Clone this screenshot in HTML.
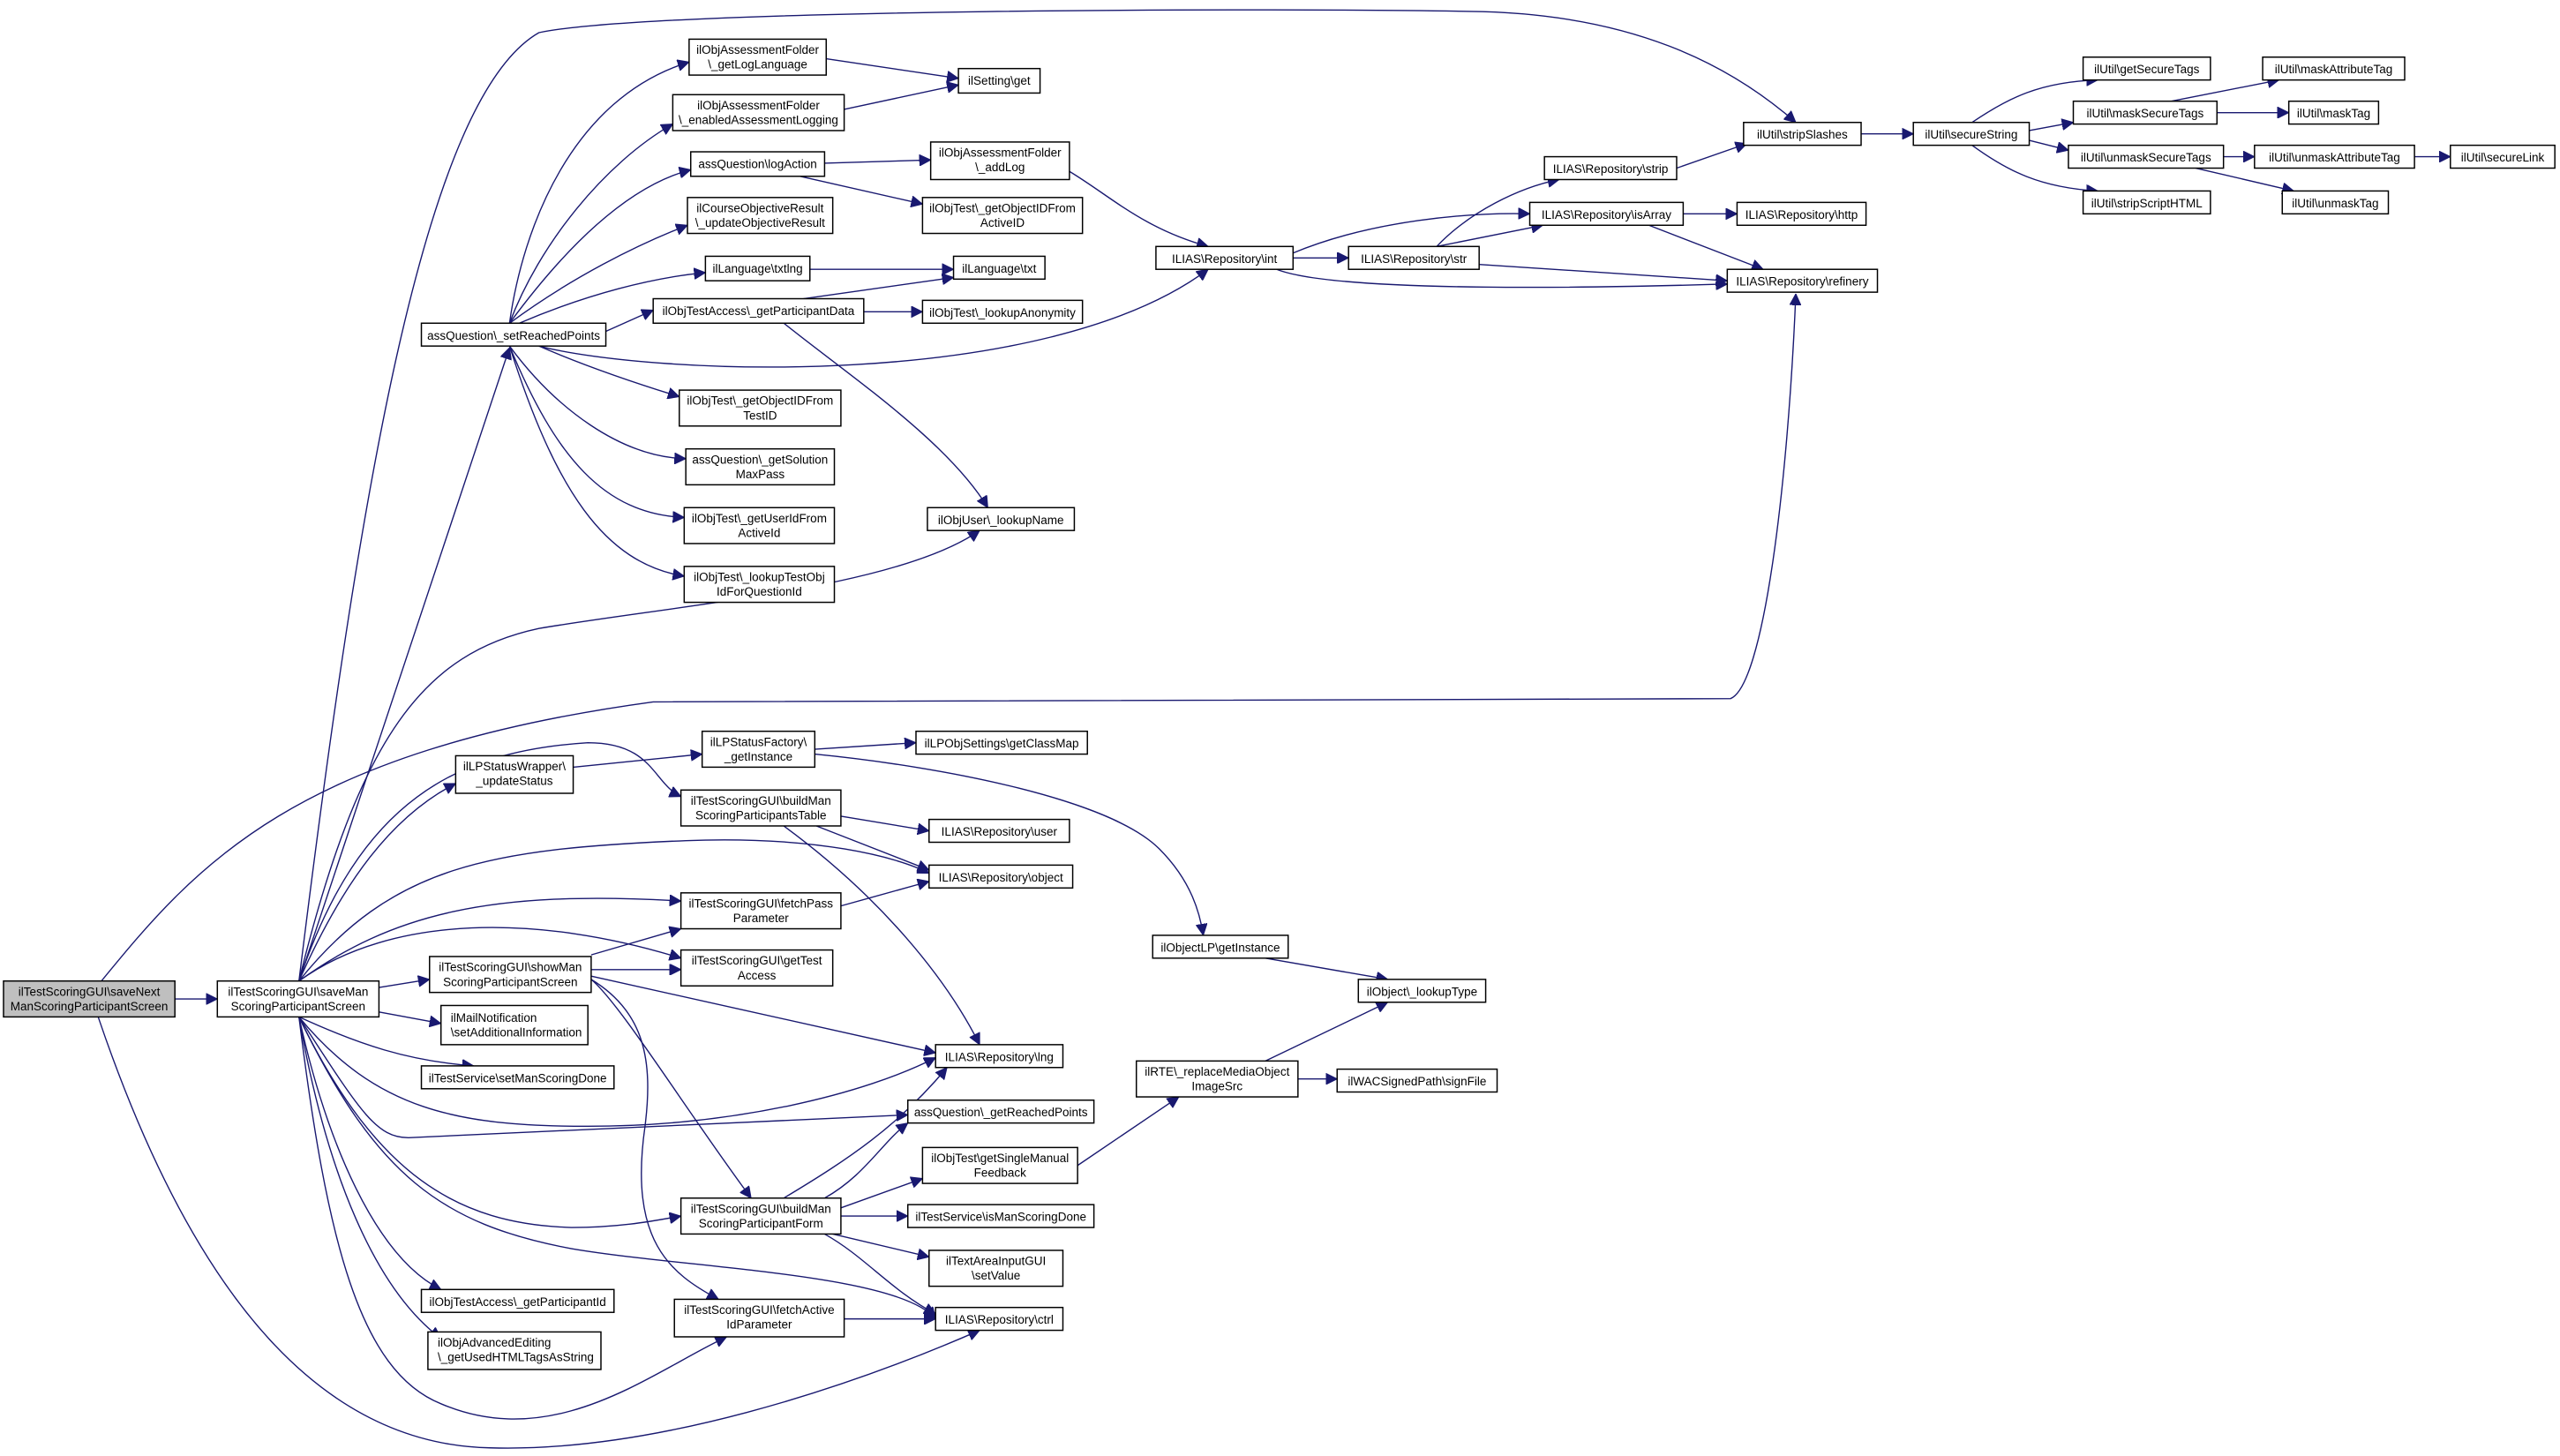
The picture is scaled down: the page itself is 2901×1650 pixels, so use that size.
<!DOCTYPE html>
<html><head><meta charset="utf-8"><style>
html,body{margin:0;padding:0;background:#fff;}
svg{display:block;}
text{font-family:"Liberation Sans",sans-serif;font-size:7.3px;fill:#000;}
rect{fill:#fff;stroke:#000;stroke-width:0.8;}
path{fill:none;stroke:#191970;stroke-width:0.75;}
</style></head><body>
<svg width="2901" height="1650" viewBox="0 0 1568 892" xmlns="http://www.w3.org/2000/svg">
<defs><marker id="a" viewBox="0 0 10 10" refX="10" refY="5" markerWidth="7" markerHeight="7" markerUnits="userSpaceOnUse" orient="auto"><path d="M0,0L10,5L0,10z" style="fill:#191970;stroke:#191970"/></marker></defs>
<g marker-end="url(#a)">
<!-- saveNext -->
<path d="M107,612L133,612"/>
<path d="M62,601C120,530 180,460 400,430 L1060,428 C1080,420 1095,300 1100,180"/>
<path d="M60,623C120,800 200,885 300,887 C400,890 520,850 600,815"/>
<!-- saveMan -->
<path d="M183,601C220,300 260,60 330,20 C400,5 800,5 900,7 C1000,8 1060,40 1100,75"/>
<path d="M183,601L312,213"/>
<path d="M183,601C220,450 260,400 330,385 C420,370 550,360 600,325"/>
<path d="M183,601C220,490 280,460 360,455 C400,455 400,480 417,488"/>
<path d="M183,601C210,540 240,500 279,480"/>
<path d="M183,601C240,530 300,520 420,515 C500,512 550,525 569,535"/>
<path d="M183,601C240,560 300,545 417,552"/>
<path d="M183,601C240,560 330,560 417,587"/>
<path d="M232,605L263,600"/>
<path d="M232,620L270,627"/>
<path d="M183,623C220,640 250,650 290,653"/>
<path d="M183,623C230,680 280,690 360,690 C450,690 530,670 573,648"/>
<path d="M183,623C220,680 230,697 250,697 L556,683"/>
<path d="M183,623C230,720 280,750 350,752 C380,752 400,748 417,745"/>
<path d="M183,623C230,720 270,750 350,765 C420,777 550,780 573,808"/>
<path d="M183,623C200,700 230,770 270,790"/>
<path d="M183,623C200,720 230,790 270,820"/>
<path d="M183,623C200,760 220,840 270,860 C340,890 400,840 445,819"/>
<!-- setReachedPoints -->
<path d="M312,198C320,140 350,60 422,38"/>
<path d="M312,198C330,150 370,100 412,76"/>
<path d="M312,198C340,160 380,115 423,104"/>
<path d="M312,198C350,170 390,150 421,138"/>
<path d="M318,198C360,180 400,170 432,167"/>
<path d="M371,203L400,190"/>
<path d="M330,212C400,230 640,240 740,165"/>
<path d="M330,212C360,225 390,235 416,243"/>
<path d="M312,212C340,250 380,280 420,281"/>
<path d="M312,212C340,280 370,315 419,317"/>
<path d="M312,212C340,300 370,345 419,353"/>
<path d="M506,36L587,48"/>
<path d="M517,67L587,52"/>
<path d="M505,100L570,98"/>
<path d="M490,108L565,125"/>
<path d="M496,165L584,165"/>
<path d="M492,183L584,170"/>
<path d="M529,191L565,191"/>
<path d="M480,198C520,230 580,270 605,311"/>
<path d="M655,105C680,120 700,140 740,151"/>
<!-- repository -->
<path d="M792,158L826,158"/>
<path d="M792,155C840,135 900,130 937,131"/>
<path d="M782,165C820,180 990,176 1058,174"/>
<path d="M880,151C900,130 930,115 955,110"/>
<path d="M880,151L945,138"/>
<path d="M906,162L1058,172"/>
<path d="M1027,103L1070,88"/>
<path d="M1031,131L1064,131"/>
<path d="M1010,138L1080,165"/>
<path d="M1140,82L1172,82"/>
<path d="M1208,75C1230,60 1250,50 1285,49"/>
<path d="M1243,80L1270,75"/>
<path d="M1243,86L1267,92"/>
<path d="M1208,89C1230,105 1250,115 1285,117"/>
<path d="M1330,62L1396,49"/>
<path d="M1358,69L1402,69"/>
<path d="M1362,96L1381,96"/>
<path d="M1479,96L1501,96"/>
<path d="M1345,103L1405,117"/>
<!-- lower -->
<path d="M351,470L430,462"/>
<path d="M499,459L561,455"/>
<path d="M499,462C580,470 680,490 710,520 C730,540 735,560 737,573"/>
<path d="M515,500L569,509"/>
<path d="M500,506L569,533"/>
<path d="M480,506C540,550 580,600 600,640"/>
<path d="M515,555L569,540"/>
<path d="M362,585L417,569"/>
<path d="M362,594L417,594"/>
<path d="M362,598L573,645"/>
<path d="M362,600C380,615 420,680 460,734"/>
<path d="M362,600C395,620 400,650 395,690 C385,760 410,780 440,796"/>
<path d="M480,734C520,710 550,690 580,654"/>
<path d="M505,734C530,720 540,700 556,688"/>
<path d="M515,740L565,722"/>
<path d="M515,745L556,745"/>
<path d="M510,756L569,770"/>
<path d="M505,756C530,770 545,790 573,805"/>
<path d="M517,808L573,808"/>
<path d="M660,714L722,672"/>
<path d="M775,650L850,614"/>
<path d="M795,661L819,661"/>
<path d="M775,587L850,600"/>
</g>
<!-- nodes -->
<rect x="2" y="601" width="105" height="22" style="fill:#bfbfbf"/><text x="54.5" y="610" text-anchor="middle">ilTestScoringGUI\saveNext</text><text x="54.5" y="619" text-anchor="middle">ManScoringParticipantScreen</text>
<rect x="133" y="601" width="99" height="22"/><text x="182.5" y="610" text-anchor="middle">ilTestScoringGUI\saveMan</text><text x="182.5" y="619" text-anchor="middle">ScoringParticipantScreen</text>
<rect x="258" y="198" width="113" height="14"/><text x="314.5" y="208" text-anchor="middle">assQuestion\_setReachedPoints</text>
<rect x="422" y="24" width="84" height="22"/><text x="464" y="33" text-anchor="middle">ilObjAssessmentFolder</text><text x="464" y="42" text-anchor="middle">\_getLogLanguage</text>
<rect x="412" y="58" width="105" height="22"/><text x="464.5" y="67" text-anchor="middle">ilObjAssessmentFolder</text><text x="464.5" y="76" text-anchor="middle">\_enabledAssessmentLogging</text>
<rect x="423" y="93" width="82" height="15"/><text x="464" y="103" text-anchor="middle">assQuestion\logAction</text>
<rect x="421" y="121" width="89" height="22"/><text x="465.5" y="130" text-anchor="middle">ilCourseObjectiveResult</text><text x="465.5" y="139" text-anchor="middle">\_updateObjectiveResult</text>
<rect x="432" y="157" width="64" height="15"/><text x="464" y="167" text-anchor="middle">ilLanguage\txtlng</text>
<rect x="400" y="183" width="129" height="15"/><text x="464.5" y="193" text-anchor="middle">ilObjTestAccess\_getParticipantData</text>
<rect x="416" y="239" width="99" height="22"/><text x="465.5" y="248" text-anchor="middle">ilObjTest\_getObjectIDFrom</text><text x="465.5" y="257" text-anchor="middle">TestID</text>
<rect x="420" y="275" width="91" height="22"/><text x="465.5" y="284" text-anchor="middle">assQuestion\_getSolution</text><text x="465.5" y="293" text-anchor="middle">MaxPass</text>
<rect x="419" y="311" width="92" height="22"/><text x="465" y="320" text-anchor="middle">ilObjTest\_getUserIdFrom</text><text x="465" y="329" text-anchor="middle">ActiveId</text>
<rect x="419" y="347" width="92" height="22"/><text x="465" y="356" text-anchor="middle">ilObjTest\_lookupTestObj</text><text x="465" y="365" text-anchor="middle">IdForQuestionId</text>
<rect x="587" y="42" width="50" height="15"/><text x="612" y="52" text-anchor="middle">ilSetting\get</text>
<rect x="570" y="87" width="85" height="23"/><text x="612.5" y="96" text-anchor="middle">ilObjAssessmentFolder</text><text x="612.5" y="105" text-anchor="middle">\_addLog</text>
<rect x="565" y="121" width="98" height="22"/><text x="614" y="130" text-anchor="middle">ilObjTest\_getObjectIDFrom</text><text x="614" y="139" text-anchor="middle">ActiveID</text>
<rect x="584" y="157" width="56" height="14"/><text x="612" y="167" text-anchor="middle">ilLanguage\txt</text>
<rect x="565" y="184" width="98" height="14"/><text x="614" y="194" text-anchor="middle">ilObjTest\_lookupAnonymity</text>
<rect x="568" y="311" width="90" height="14"/><text x="613" y="321" text-anchor="middle">ilObjUser\_lookupName</text>
<rect x="708" y="151" width="84" height="14"/><text x="750" y="161" text-anchor="middle">ILIAS\Repository\int</text>
<rect x="826" y="151" width="80" height="14"/><text x="866" y="161" text-anchor="middle">ILIAS\Repository\str</text>
<rect x="946" y="96" width="81" height="14"/><text x="986.5" y="106" text-anchor="middle">ILIAS\Repository\strip</text>
<rect x="937" y="124" width="94" height="14"/><text x="984" y="134" text-anchor="middle">ILIAS\Repository\isArray</text>
<rect x="1064" y="124" width="79" height="14"/><text x="1103.5" y="134" text-anchor="middle">ILIAS\Repository\http</text>
<rect x="1058" y="165" width="92" height="14"/><text x="1104" y="175" text-anchor="middle">ILIAS\Repository\refinery</text>
<rect x="1068" y="75" width="72" height="14"/><text x="1104" y="85" text-anchor="middle">ilUtil\stripSlashes</text>
<rect x="1172" y="75" width="71" height="14"/><text x="1207.5" y="85" text-anchor="middle">ilUtil\secureString</text>
<rect x="1276" y="35" width="78" height="14"/><text x="1315" y="45" text-anchor="middle">ilUtil\getSecureTags</text>
<rect x="1270" y="62" width="88" height="14"/><text x="1314" y="72" text-anchor="middle">ilUtil\maskSecureTags</text>
<rect x="1267" y="89" width="95" height="14"/><text x="1314.5" y="99" text-anchor="middle">ilUtil\unmaskSecureTags</text>
<rect x="1276" y="117" width="78" height="14"/><text x="1315" y="127" text-anchor="middle">ilUtil\stripScriptHTML</text>
<rect x="1386" y="35" width="87" height="14"/><text x="1429.5" y="45" text-anchor="middle">ilUtil\maskAttributeTag</text>
<rect x="1402" y="62" width="55" height="14"/><text x="1429.5" y="72" text-anchor="middle">ilUtil\maskTag</text>
<rect x="1381" y="89" width="98" height="14"/><text x="1430" y="99" text-anchor="middle">ilUtil\unmaskAttributeTag</text>
<rect x="1398" y="117" width="65" height="14"/><text x="1430.5" y="127" text-anchor="middle">ilUtil\unmaskTag</text>
<rect x="1501" y="89" width="64" height="14"/><text x="1533" y="99" text-anchor="middle">ilUtil\secureLink</text>
<rect x="279" y="463" width="72" height="23"/><text x="315" y="472" text-anchor="middle">ilLPStatusWrapper\</text><text x="315" y="481" text-anchor="middle">_updateStatus</text>
<rect x="430" y="448" width="69" height="22"/><text x="464.5" y="457" text-anchor="middle">ilLPStatusFactory\</text><text x="464.5" y="466" text-anchor="middle">_getInstance</text>
<rect x="417" y="484" width="98" height="22"/><text x="466" y="493" text-anchor="middle">ilTestScoringGUI\buildMan</text><text x="466" y="502" text-anchor="middle">ScoringParticipantsTable</text>
<rect x="561" y="448" width="105" height="14"/><text x="613.5" y="458" text-anchor="middle">ilLPObjSettings\getClassMap</text>
<rect x="569" y="502" width="86" height="14"/><text x="612" y="512" text-anchor="middle">ILIAS\Repository\user</text>
<rect x="569" y="530" width="88" height="14"/><text x="613" y="540" text-anchor="middle">ILIAS\Repository\object</text>
<rect x="417" y="547" width="98" height="22"/><text x="466" y="556" text-anchor="middle">ilTestScoringGUI\fetchPass</text><text x="466" y="565" text-anchor="middle">Parameter</text>
<rect x="417" y="582" width="93" height="22"/><text x="463.5" y="591" text-anchor="middle">ilTestScoringGUI\getTest</text><text x="463.5" y="600" text-anchor="middle">Access</text>
<rect x="263" y="586" width="99" height="22"/><text x="312.5" y="595" text-anchor="middle">ilTestScoringGUI\showMan</text><text x="312.5" y="604" text-anchor="middle">ScoringParticipantScreen</text>
<rect x="270" y="616" width="90" height="24"/><text x="276" y="626">ilMailNotification</text><text x="276" y="635">\setAdditionalInformation</text>
<rect x="258" y="653" width="118" height="14"/><text x="317" y="663" text-anchor="middle">ilTestService\setManScoringDone</text>
<rect x="573" y="640" width="78" height="14"/><text x="612" y="650" text-anchor="middle">ILIAS\Repository\lng</text>
<rect x="556" y="674" width="114" height="14"/><text x="613" y="684" text-anchor="middle">assQuestion\_getReachedPoints</text>
<rect x="565" y="703" width="95" height="22"/><text x="612.5" y="712" text-anchor="middle">ilObjTest\getSingleManual</text><text x="612.5" y="721" text-anchor="middle">Feedback</text>
<rect x="417" y="734" width="98" height="22"/><text x="466" y="743" text-anchor="middle">ilTestScoringGUI\buildMan</text><text x="466" y="752" text-anchor="middle">ScoringParticipantForm</text>
<rect x="556" y="738" width="114" height="14"/><text x="613" y="748" text-anchor="middle">ilTestService\isManScoringDone</text>
<rect x="569" y="766" width="82" height="22"/><text x="610" y="775" text-anchor="middle">ilTextAreaInputGUI</text><text x="610" y="784" text-anchor="middle">\setValue</text>
<rect x="573" y="801" width="78" height="14"/><text x="612" y="811" text-anchor="middle">ILIAS\Repository\ctrl</text>
<rect x="258" y="790" width="118" height="14"/><text x="317" y="800" text-anchor="middle">ilObjTestAccess\_getParticipantId</text>
<rect x="262" y="816" width="106" height="23"/><text x="268" y="825">ilObjAdvancedEditing</text><text x="268" y="834">\_getUsedHTMLTagsAsString</text>
<rect x="413" y="796" width="104" height="23"/><text x="465" y="805" text-anchor="middle">ilTestScoringGUI\fetchActive</text><text x="465" y="814" text-anchor="middle">IdParameter</text>
<rect x="706" y="573" width="83" height="14"/><text x="747.5" y="583" text-anchor="middle">ilObjectLP\getInstance</text>
<rect x="832" y="600" width="78" height="14"/><text x="871" y="610" text-anchor="middle">ilObject\_lookupType</text>
<rect x="696" y="650" width="99" height="22"/><text x="745.5" y="659" text-anchor="middle">ilRTE\_replaceMediaObject</text><text x="745.5" y="668" text-anchor="middle">ImageSrc</text>
<rect x="819" y="655" width="98" height="14"/><text x="868" y="665" text-anchor="middle">ilWACSignedPath\signFile</text>
</svg>
</body></html>
